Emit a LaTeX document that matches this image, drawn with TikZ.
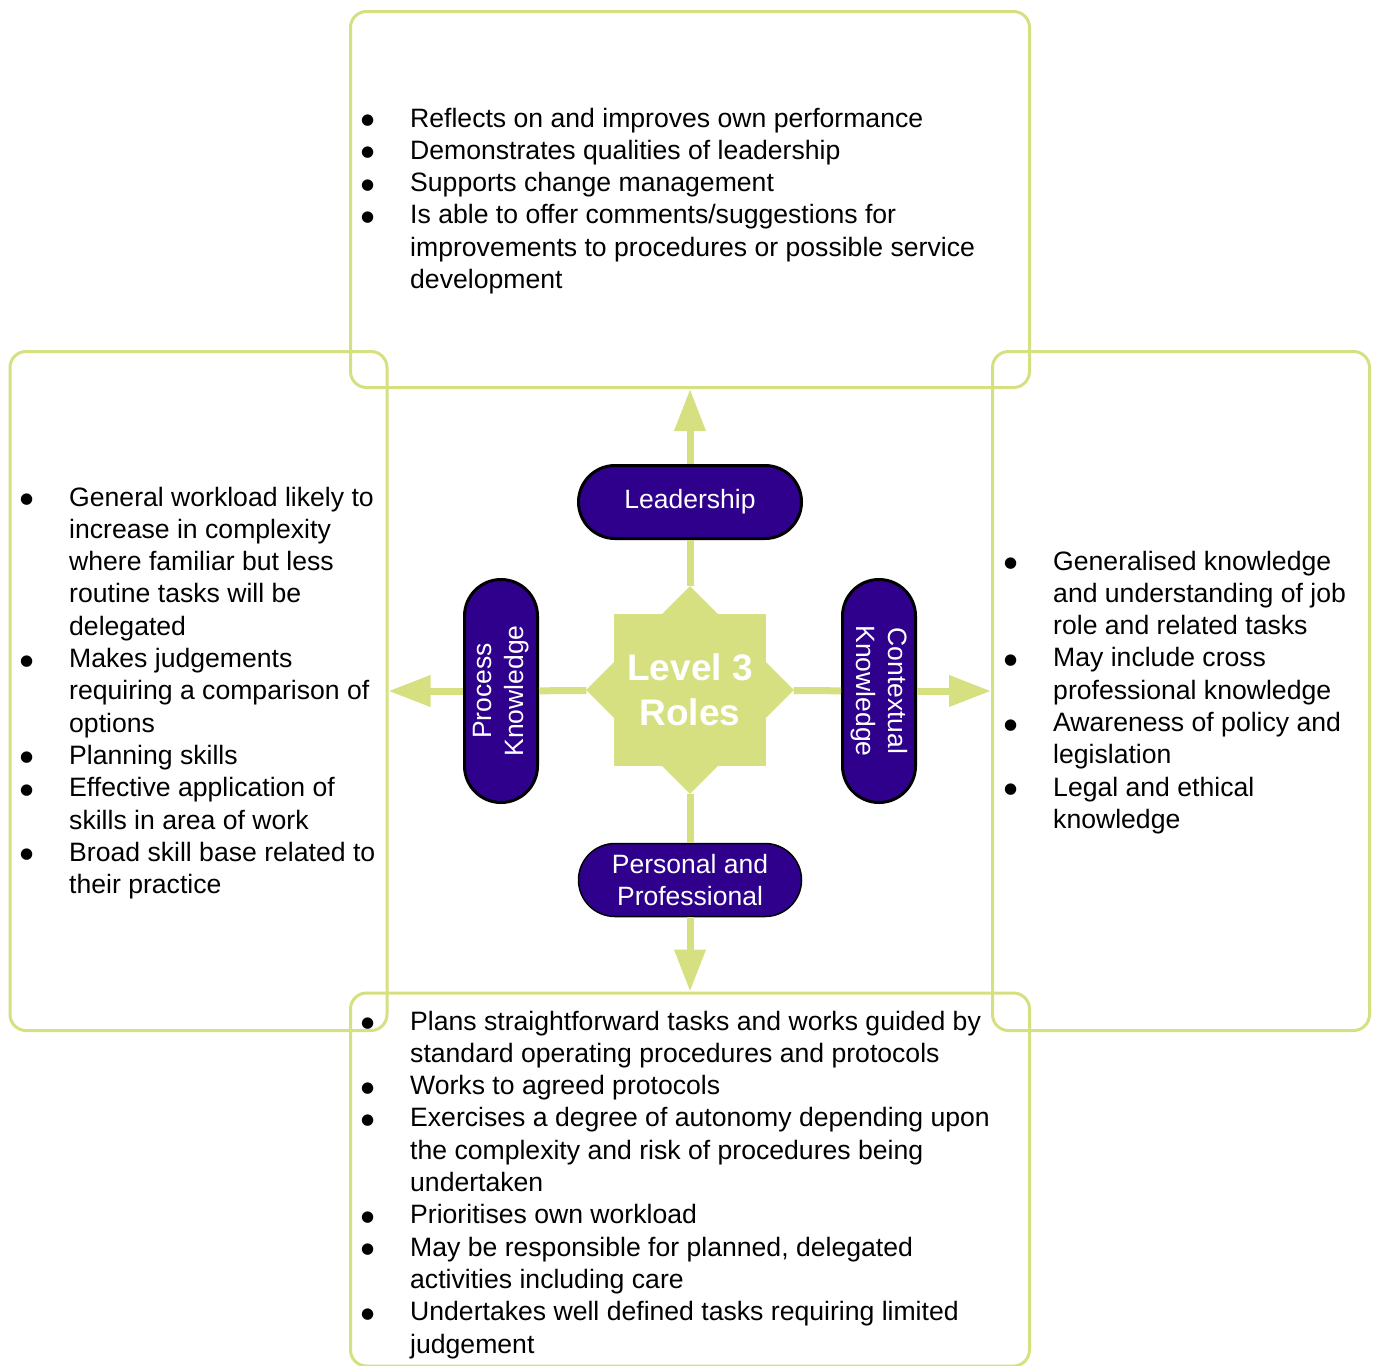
\documentclass[tikz,border=0pt]{standalone}
\usepackage{fontspec}
\setmainfont{Liberation Sans}
\newfontfamily\dotfont{DejaVu Sans}
\usetikzlibrary{arrows.meta,shapes.geometric}
\definecolor{levelgreen}{RGB}{214,224,128}
\definecolor{rolepurple}{RGB}{46,0,140}
\newcommand{\bodyfont}{\fontsize{26.6}{32.3}\selectfont}
\newcommand{\blt}{\raisebox{2.5pt}{\dotfont\fontsize{15}{15}\selectfont ●}}

\begin{document}
\begin{tikzpicture}[x=1pt,y=-1pt,
  box node/.style={draw=levelgreen,line width=3pt,rounded corners=16pt,inner sep=0pt},
  role node/.style={fill=rolepurple,draw=black,line width=3pt,rounded corners=36.5pt,minimum width=223pt,minimum height=73pt,
    inner sep=0pt,text=white,align=center,font=\fontsize{26.5}{32}\selectfont},
  list node/.style={anchor=base west,inner sep=0pt,font=\bodyfont},
  link/.style={draw=levelgreen,line width=7pt},
  arrow link/.style={link,-{Triangle[length=42pt,width=30pt]}}]
  \useasboundingbox (0,0) rectangle (1378,1365);

  \node[box node,minimum width=679pt,minimum height=376pt] (topbox) at (690,199.5) {};
  \node[box node,minimum width=377pt,minimum height=679pt] (leftbox) at (198.5,691) {};
  \node[box node,minimum width=377pt,minimum height=679pt] (rightbox) at (1181,691) {};
  \node[box node,minimum width=679pt,minimum height=373pt] (botbox) at (690,1179.5) {};

  \node[list node] (toptext) at (361,127) {\begin{tabular}[t]{@{}p{49pt}@{}l@{}}
    \blt & Reflects on and improves own performance\\
    \blt & Demonstrates qualities of leadership\\
    \blt & Supports change management\\
    \blt & Is able to offer comments/suggestions for\\
         & improvements to procedures or possible service\\
         & development
  \end{tabular}};
  \node[list node] (lefttext) at (20,506) {\begin{tabular}[t]{@{}p{49pt}@{}l@{}}
    \blt & General workload likely to\\
         & increase in complexity\\
         & where familiar but less\\
         & routine tasks will be\\
         & delegated\\
    \blt & Makes judgements\\
         & requiring a comparison of\\
         & options\\
    \blt & Planning skills\\
    \blt & Effective application of\\
         & skills in area of work\\
    \blt & Broad skill base related to\\
         & their practice
  \end{tabular}};
  \node[list node] (righttext) at (1004,570) {\begin{tabular}[t]{@{}p{49pt}@{}l@{}}
    \blt & Generalised knowledge\\
         & and understanding of job\\
         & role and related tasks\\
    \blt & May include cross\\
         & professional knowledge\\
    \blt & Awareness of policy and\\
         & legislation\\
    \blt & Legal and ethical\\
         & knowledge
  \end{tabular}};
  \node[list node] (bottext) at (361,1030) {\begin{tabular}[t]{@{}p{49pt}@{}l@{}}
    \blt & Plans straightforward tasks and works guided by\\
         & standard operating procedures and protocols\\
    \blt & Works to agreed protocols\\
    \blt & Exercises a degree of autonomy depending upon\\
         & the complexity and risk of procedures being\\
         & undertaken\\
    \blt & Prioritises own workload\\
    \blt & May be responsible for planned, delegated\\
         & activities including care\\
    \blt & Undertakes well defined tasks requiring limited\\
         & judgement
  \end{tabular}};

  \node[fill=levelgreen,minimum size=152pt,inner sep=0pt] (square) at (690,690) {};
  \node[diamond,fill=levelgreen,minimum size=208pt,inner sep=0pt] (star) at (690,690) {};
  \node[text=white,align=center,font=\bfseries\fontsize{37}{45}\selectfont] (level) at (690,690) {Level 3\\Roles};

  \node[role node] (lead) at (690,502) {Leadership};
  \node[role node,line width=1.5pt] (pers) at (690,880) {Personal and\\Professional};
  \node[role node,rotate=90] (proc) at (501,691) {Process\\Knowledge};
  \node[role node,rotate=-90] (ctx) at (879,691) {Contextual\\Knowledge};

\path
  (star) edge[link] (lead)
  (star) edge[link] (pers)
  (star) edge[link] (proc)
  (star) edge[link] (ctx)
  (lead) edge[arrow link] (topbox)
  (pers) edge[arrow link] (botbox)
  (proc) edge[arrow link] (leftbox)
  (ctx) edge[arrow link] (rightbox)
;
\end{tikzpicture}
\end{document}
